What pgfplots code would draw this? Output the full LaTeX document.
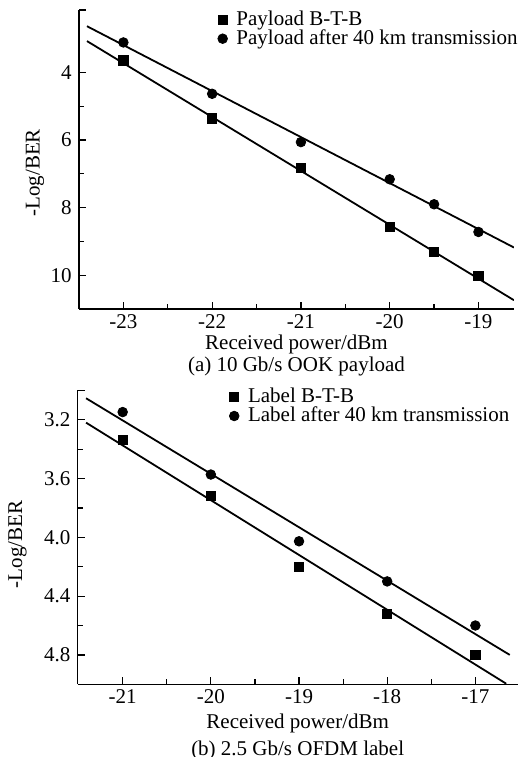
\documentclass[border=0pt]{standalone}
\usepackage{fontspec}
\setmainfont{Liberation Serif}
\usepackage{pgfplots}
\pgfplotsset{compat=1.18}

\pgfplotsset{
  berplot/.style={
    scale only axis,
    axis x line=bottom, axis y line=left,
    x axis line style={-}, y axis line style={-},
    axis line style={line width=0.8pt},
    y dir=reverse,
    tick align=inside,
    major tick length=3.5pt, minor tick length=2.5pt,
    every tick/.style={black, line width=0.6pt},
    minor x tick num=1, minor y tick num=1,
    /pgf/number format/assume math mode=true,
    tick label style={font=\fontsize{10.5}{12}\selectfont},
    xticklabel style={yshift=1pt},
    legend cell align=left,
    legend style={draw=none, fill=none, font=\fontsize{10.5}{12}\selectfont,
      anchor=north east, row sep=0.6pt, column sep=4.5pt,
      nodes={inner sep=0pt}},
    legend image code/.code={\draw[##1] plot coordinates {(0cm,0cm)};},
    extra y tick labels={},
  },
  fit/.style={black, line width=0.9pt, no marks, forget plot},
  sq/.style={only marks, mark=square*, mark size=2.3pt, black},
  ci/.style={only marks, mark=*, mark size=2.4pt, black},
}

\begin{document}
\fontsize{10.5}{12}\selectfont
\begin{tikzpicture}
% (a) payload
\begin{axis}[berplot, name=top,
    at={(0,0)}, anchor=south west,
    width=217.5pt, height=149.5pt,
    xmin=-23.5, xmax=-18.6,
    ymin=2.15, ymax=11,
    xtick={-23,-22,-21,-20,-19},
    ytick={4,6,8,10},
    extra y ticks={2.15},
    legend style={at={(axis description cs:1,1)}, xshift=5pt, yshift=1.8pt},
]
\addplot[sq] coordinates {(-23,3.64) (-22,5.36) (-21,6.82) (-20,8.57) (-19.5,9.31) (-19,10.01)};
\addlegendentry{Payload B-T-B}
\addplot[ci] coordinates {(-23,3.11) (-22,4.63) (-21,6.06) (-20,7.16) (-19.5,7.90) (-19,8.72)};
\addlegendentry{Payload after 40 km transmission}
\addplot[fit] coordinates {(-23.41,3.07) (-18.6,10.74)};
\addplot[fit] coordinates {(-23.41,2.63) (-18.6,9.18)};
\end{axis}
\node at ([yshift=-17.5pt]top.south) {Received power/dBm};
\node at ([yshift=-28.5pt]top.south) {(a) 10 Gb/s OOK payload};
\node[rotate=90] at ([xshift=-22pt,yshift=-6.7pt]top.west) {-Log/BER};

% (b) label
\begin{axis}[berplot, name=bot,
    at={(-0.65pt,-187.65pt)}, anchor=south west,
    width=220pt, height=147pt,
    xmin=-21.51, xmax=-16.52,
    ymin=3.0, ymax=5.0,
    xtick={-21,-20,-19,-18,-17},
    ytick={3.2,3.6,4.0,4.4,4.8},
    extra y ticks={3.0},
    yticklabel style={/pgf/number format/.cd, fixed, fixed zerofill, precision=1},
    legend style={at={(axis description cs:1,1)}, xshift=-1pt, yshift=3.3pt},
]
\addplot[sq] coordinates {(-21,3.337) (-20,3.72) (-19,4.20) (-18,4.52) (-17,4.80)};
\addlegendentry{Label B-T-B}
\addplot[ci] coordinates {(-21,3.148) (-20,3.573) (-19,4.027) (-18,4.30) (-17,4.60)};
\addlegendentry{Label after 40 km transmission}
\addplot[fit] coordinates {(-21.415,3.22) (-16.65,4.996)};
\addplot[fit] coordinates {(-21.415,3.054) (-16.61,4.80)};
\end{axis}
\node at ([yshift=-19.5pt]bot.south) {Received power/dBm};
\node at ([yshift=-33pt]bot.south) {(b) 2.5 Gb/s OFDM label};
\node[rotate=90] at ([xshift=-30.1pt,yshift=-3.5pt]bot.west) {-Log/BER};

\pgfresetboundingbox
\path (-39.5pt,-224pt) rectangle (225.5pt,154.5pt);
\end{tikzpicture}
\end{document}
